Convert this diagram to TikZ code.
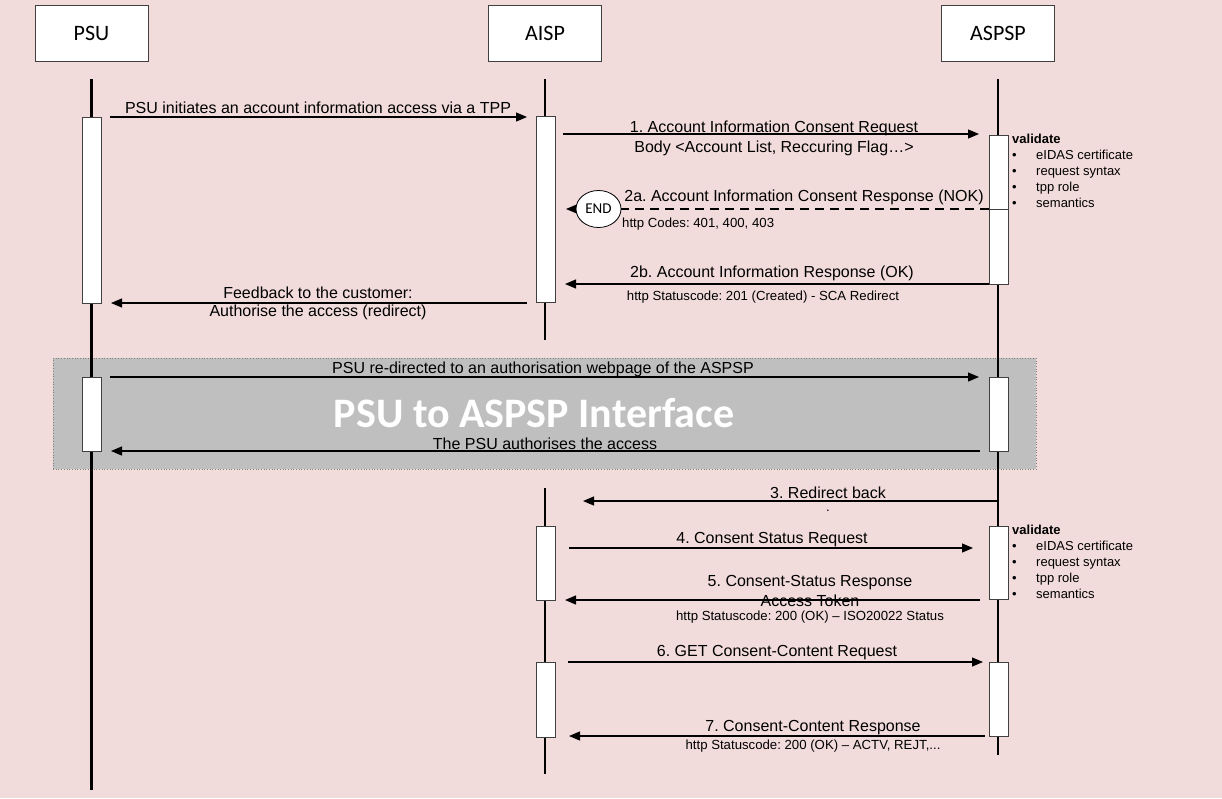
\documentclass[tikz,border=0pt]{standalone}
\usepackage{fontspec}
\setmainfont{Liberation Sans}
\newfontfamily\carlito{Carlito}
\usetikzlibrary{arrows.meta,shapes.geometric}
\definecolor{bgpink}{HTML}{F2DCDB}
\definecolor{bandgrey}{HTML}{BFBFBF}
\definecolor{edgegrey}{HTML}{404040}
\frenchspacing
\begin{document}
\begin{tikzpicture}[x=1pt,y=-1pt,
  actor/.style={draw=edgegrey,fill=white,line width=0.9pt,minimum width=113pt,minimum height=56pt,inner sep=0pt,font=\carlito\fontsize{22}{25}\selectfont},
  life/.style={line width=2.8pt,black},
  bar/.style={draw=edgegrey,fill=white,line width=0.9pt,minimum width=19pt,inner sep=0pt},
  msg/.style={line width=1.2pt,-{Triangle[length=11pt,width=9pt]}},
  lab/.style={font=\fontsize{16}{18}\selectfont,inner sep=0pt},
  sublab/.style={font=\fontsize{13.2}{15}\selectfont,inner sep=0pt},
  vlist/.style={font=\fontsize{13}{16}\selectfont,inner sep=0pt,anchor=north west,align=left}
]
\useasboundingbox (0,0) rectangle (1222,798);
\fill[bgpink] (0,0) rectangle (1222,798);

% band
\node[draw=gray,dotted,fill=bandgrey,line width=0.7pt,minimum width=983pt,minimum height=111pt,inner sep=0pt] (band) at (544.5,413.5) {};

% actors
\node[actor] (psu) at (91.5,33) {PSU};
\node[actor] (aisp) at (545,33) {AISP};
\node[actor] (aspsp) at (998,33) {ASPSP};

% lifelines
\coordinate (psuT) at (91.5,79);  \coordinate (psuB) at (91.5,790);
\coordinate (aispT) at (545,79);  \coordinate (aispM) at (545,340);
\coordinate (aispN) at (545,488); \coordinate (aispB) at (545,774);
\coordinate (aspspT) at (998,79); \coordinate (aspspB) at (998,755);
\draw[life] (psuT) -- (psuB);
\draw[life] (aispT) -- (aispM);
\draw[life] (aispN) -- (aispB);
\draw[life] (aspspT) -- (aspspB);

% activation bars
\node[bar,minimum height=186pt] (pb1) at (91.5,210) {};
\node[bar,minimum height=186pt] (ab1) at (545.5,209) {};
\node[bar,minimum height=74pt] (sb1a) at (998.5,172) {};
\node[bar,minimum height=75pt] (sb1b) at (998.5,246.5) {};
\node[bar,minimum height=74pt] (pb2) at (91.5,414) {};
\node[bar,minimum height=74pt] (sb2) at (998.5,414) {};
\node[bar,minimum height=74pt] (ab2) at (545.5,563) {};
\node[bar,minimum height=73pt] (sb3) at (998.5,562.5) {};
\node[bar,minimum height=75pt] (ab3) at (545.5,699.5) {};
\node[bar,minimum height=74pt] (sb4) at (998.5,699) {};

% message end points
\coordinate (m0s) at (110,117);  \coordinate (m0e) at (527,117);
\coordinate (m1s) at (563,134);  \coordinate (m1e) at (979,134);
\coordinate (m2as) at (989,209); \coordinate (m2ae) at (566,209);
\coordinate (m2bs) at (989,284); \coordinate (m2be) at (565,284);
\coordinate (mfbs) at (527,303); \coordinate (mfbe) at (111,303);
\coordinate (mrs) at (110,377);  \coordinate (mre) at (979,377);
\coordinate (mas) at (980,451);  \coordinate (mae) at (111,451);
\coordinate (m3s) at (998,501);  \coordinate (m3e) at (583,501);
\coordinate (m4s) at (569,548);  \coordinate (m4e) at (973,548);
\coordinate (m5s) at (980,600);  \coordinate (m5e) at (565,600);
\coordinate (m6s) at (568,662);  \coordinate (m6e) at (983,662);
\coordinate (m7s) at (985,736);  \coordinate (m7e) at (569,736);

\draw[msg] (m0s) -- (m0e);
\draw[msg] (m1s) -- (m1e);
\draw[msg,dash pattern=on 9pt off 6pt] (m2as) -- (m2ae);
\draw[msg] (m2bs) -- (m2be);
\draw[msg] (mfbs) -- (mfbe);
\draw[msg] (mrs) -- (mre);
\draw[msg] (mas) -- (mae);
\draw[msg] (m3s) -- (m3e);
\draw[msg] (m4s) -- (m4e);
\draw[msg] (m5s) -- (m5e);
\draw[msg] (m6s) -- (m6e);
\draw[msg] (m7s) -- (m7e);

\node[ellipse,draw=black,fill=white,line width=0.8pt,minimum width=45pt,minimum height=37pt,inner sep=0pt,font=\carlito\fontsize{15}{18}\selectfont] (endn) at (598.5,209) {END};

% labels
\node[lab] (l0) at (318,108) {PSU initiates an account information access via a TPP};
\node[lab] (l1a) at (774,128) {1. Account Information Consent Request};
\node[lab] (l1b) at (774,148) {Body <Account List, Reccuring Flag…>};
\node[lab] (l2a) at (804,197) {2a. Account Information Consent Response (NOK)};
\node[sublab,anchor=west] (l2as) at (622,224) {http Codes: 401, 400, 403};
\node[lab] (l2b) at (772,273) {2b. Account Information Response (OK)};
\node[sublab] (l2bs) at (763,297) {http Statuscode: 201 (Created) - SCA Redirect};
\node[lab] (lfb1) at (318,293) {Feedback to the customer:};
\node[lab] (lfb2) at (318,312) {Authorise the access (redirect)};
\node[lab] (lr) at (543,369) {PSU re-directed to an authorisation webpage of the ASPSP};
\node[lab] (la) at (545,444) {The PSU authorises the access};
\node[lab] (l3) at (828,493) {3. Redirect back};
\node[sublab] (l3d) at (828,511) {.};
\node[lab] (l4) at (772,540) {4. Consent Status Request};
\node[lab] (l5a) at (810,583) {5. Consent-Status Response};
\node[lab] (l5b) at (810,601) {Access Token};
\node[sublab] (l5c) at (810,617) {http Statuscode: 200 (OK) – ISO20022 Status};
\node[lab] (l6) at (777,653) {6. GET Consent-Content Request};
\node[lab] (l7) at (813,728) {7. Consent-Content Response};
\node[sublab] (l7s) at (813,746) {http Statuscode: 200 (OK) – ACTV, REJT,...};

% validate lists
\node[vlist] (v1) at (1012,134) {\textbf{validate}\\\makebox[24pt][l]{•}eIDAS certificate\\\makebox[24pt][l]{•}request syntax\\\makebox[24pt][l]{•}tpp role\\\makebox[24pt][l]{•}semantics};
\node[vlist] (v2) at (1012,525) {\textbf{validate}\\\makebox[24pt][l]{•}eIDAS certificate\\\makebox[24pt][l]{•}request syntax\\\makebox[24pt][l]{•}tpp role\\\makebox[24pt][l]{•}semantics};

% band title
\node[font=\carlito\bfseries\fontsize{42}{46}\selectfont,text=white,inner sep=0pt] (title) at (534,413) {PSU to ASPSP Interface};
\end{tikzpicture}
\end{document}
